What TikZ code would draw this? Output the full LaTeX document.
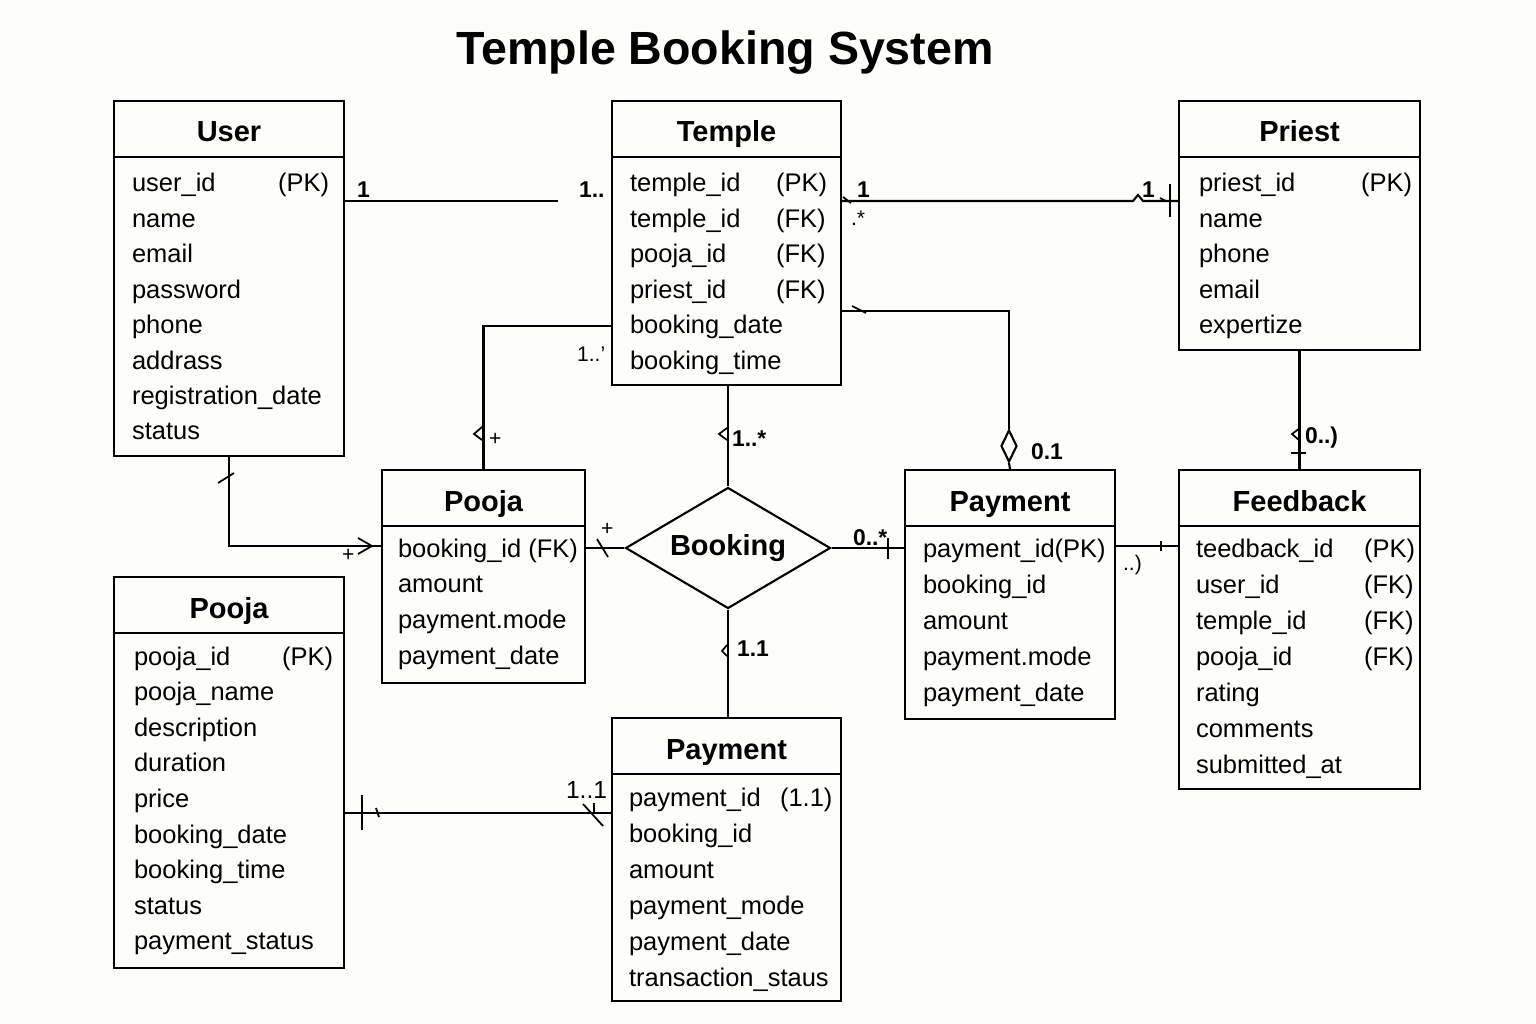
\documentclass[tikz,border=0pt]{standalone}
\usepackage{fontspec}
\setmainfont{Liberation Sans}
\usetikzlibrary{calc,shapes.geometric}
\definecolor{paper}{HTML}{FDFDFA}

\begin{document}
\begin{tikzpicture}[x=0.02cm, y=-0.02cm, line width=1.2pt,
  font=\fontsize{14.5}{17}\selectfont,
  box/.style={draw, anchor=north west, inner sep=0pt},
  ttl/.style={anchor=base, font=\fontsize{16.5}{19}\selectfont\bfseries},
  fld/.style={anchor=base west, inner sep=0pt},
  card/.style={anchor=base west, font=\fontsize{13}{15}\selectfont\bfseries, inner sep=0pt},
  note/.style={anchor=base west, font=\fontsize{12}{14}\selectfont, inner sep=0pt},
  tick/.style={line width=1pt}]
\fill[paper] (0,0) rectangle (1536,1024);
\useasboundingbox (0,0) rectangle (1536,1024);

\node[anchor=base, inner sep=0pt, font=\fontsize{26.5}{30}\selectfont\bfseries] (title) at (725,65) {Temple Booking System};

% entity boxes
\foreach \id/\x/\y/\w/\h/\t in {user/113/100/4.6/7.1/User, temple/611/100/4.58/5.68/Temple,
    priest/1178/100/4.82/4.98/Priest, pooja1/381/469/4.06/4.26/Pooja, pay1/904/469/4.2/4.98/Payment,
    feedback/1178/469/4.82/6.38/Feedback, pooja2/113/576/4.6/7.82/Pooja, pay2/611/717/4.58/5.66/Payment} {
  \node[box, minimum width=\w cm, minimum height=\h cm] (\id) at (\x,\y) {};
  \draw ($(\id.north west)+(0,57)$) -- ($(\id.north east)+(0,57)$);
  \node[ttl, inner sep=0pt] (\id-t) at ($(\id.north)+(0,42)$) {\t};
}

% attributes
\foreach \f [count=\i from 0] in {user\_id, name, email, password, phone, addrass, registration\_date, status}
  \node[fld] (user-\i) at (131,192+\i*35.4) {\f};
\node[fld] (user-k0) at (277,192) {(PK)};
\foreach \f [count=\i from 0] in {temple\_id, temple\_id, pooja\_id, priest\_id, booking\_date, booking\_time}
  \node[fld] (temple-\i) at (629,192+\i*35.4) {\f};
\foreach \k [count=\i from 0] in {(PK), (FK), (FK), (FK)}
  \node[fld] (temple-k\i) at (775,192+\i*35.4) {\k};
\foreach \f [count=\i from 0] in {priest\_id, name, phone, email, expertize}
  \node[fld] (priest-\i) at (1198,192+\i*35.4) {\f};
\node[fld] (priest-k0) at (1360,192) {(PK)};
\foreach \f [count=\i from 0] in {booking\_id (FK), amount, payment.mode, payment\_date}
  \node[fld] (pooja1-\i) at (397,557+\i*35.7) {\f};
\foreach \f [count=\i from 0] in {payment\_id(PK), booking\_id, amount, payment.mode, payment\_date}
  \node[fld] (pay1-\i) at (922,557+\i*36.2) {\f};
\foreach \f [count=\i from 0] in {teedback\_id, user\_id, temple\_id, pooja\_id, rating, comments, submitted\_at}
  \node[fld] (feedback-\i) at (1195,557+\i*36) {\f};
\foreach \k [count=\i from 0] in {(PK), (FK), (FK), (FK)}
  \node[fld] (feedback-k\i) at (1363,557+\i*36) {\k};
\foreach \f [count=\i from 0] in {pooja\_id, pooja\_name, description, duration, price, booking\_date, booking\_time, status, payment\_status}
  \node[fld] (pooja2-\i) at (133,665+\i*35.6) {\f};
\node[fld] (pooja2-k0) at (281,665) {(PK)};
\foreach \f [count=\i from 0] in {payment\_id, booking\_id, amount, payment\_mode, payment\_date, transaction\_staus}
  \node[fld] (pay2-\i) at (628,806+\i*36) {\f};
\node[fld] (pay2-k0) at (779,806) {(1.1)};

% relationship
\node[diamond, draw, aspect=1.7, inner sep=0pt, minimum width=4.1cm, minimum height=2.42cm,
  font=\fontsize{16.5}{19}\selectfont\bfseries] (booking) at (728,548) {Booking};
\node[diamond, draw, aspect=0.5, inner sep=0pt, minimum width=0.32cm, minimum height=0.64cm] (agg) at (1009,446) {};

% user - temple
\coordinate (ut) at (558,201);
\draw (user.east |- 0,201) -- (ut);
\node[card] (c1) at (356,197) {1};
\node[card] (c2) at (578,197) {1..};

% temple - priest
\draw (temple.east |- 0,201) -- (1133,201) -- (1138,195) -- (1143,201) -- (priest.west |- 0,201);
\draw[tick] (843,197) -- (851,203);
\draw[tick] (1160,198) -- (1166,201);
\draw (1170,184) -- (1170,217);
\node[card] (c3) at (856,197) {1};
\node[note] (c4) at (850,226) {.*};
\node[card] (c5) at (1141,197) {1};

% temple - payment
\draw (temple.east |- 0,311) -| (agg.north);
\draw (agg.south) -- (pay1.north);
\draw[tick] (852,306) -- (866,313);
\node[card] (c6) at (1030,459) {0.1};

% temple - pooja
\draw (temple.west |- 0,326) -| (pooja1.north);
\draw[tick] (482,427) -- (474,434) -- (482,440);
\node[note] (c7) at (488,445) {+};
\node[note] (c8) at (576,361) {1..'};

% temple - booking
\draw (temple.south -| booking.north) -- (booking.north);
\draw[tick] (727,428) -- (719,434) -- (727,440);
\node[card] (c9) at (731,446) {1..*};

% user - pooja
\draw (user.south) |- (pooja1.west |- 0,546);
\draw[tick] (218,483) -- (234,473);
\draw[tick] (358,538) -- (372,546) -- (358,554);
\node[note] (c10) at (341,561) {+};

% pooja - booking
\draw (pooja1.east |- booking.west) -- (booking.west);
\draw[tick] (597,539) -- (608,557);
\node[note] (c11) at (600,535) {+};

% booking - payment
\draw (booking.east) -- (pay1.west |- booking.east);
\draw[tick] (888,538) -- (888,559);
\node[card] (c12) at (852,545) {0..*};

% payment - feedback
\draw (pay1.east |- 0,546) -- (feedback.west |- 0,546);
\draw[tick] (1161,541) -- (1161,551);
\node[note] (c13) at (1122,570) {..)};

% priest - feedback
\draw (priest.south) -- (feedback.north);
\draw[tick] (1300,428) -- (1292,434) -- (1300,441);
\draw (1291,453) -- (1306,453);
\node[card] (c14) at (1304,443) {0..)};

% booking - payment
\draw (booking.south) -- (pay2.north -| booking.south);
\draw[tick] (727,645) -- (722,651) -- (727,656);
\node[card] (c15) at (736,656) {1.1};

% pooja - payment
\draw (pooja2.east |- 0,813) -- (pay2.west |- 0,813);
\draw (362,795) -- (362,830);
\draw[tick] (376,808) -- (379,817);
\draw[tick] (583,804) -- (603,826);
\draw[tick] (594,803) -- (594,813);
\node[note, font=\fontsize{14}{16}\selectfont] (c16) at (565,798) {1..1};
\end{tikzpicture}
\end{document}
